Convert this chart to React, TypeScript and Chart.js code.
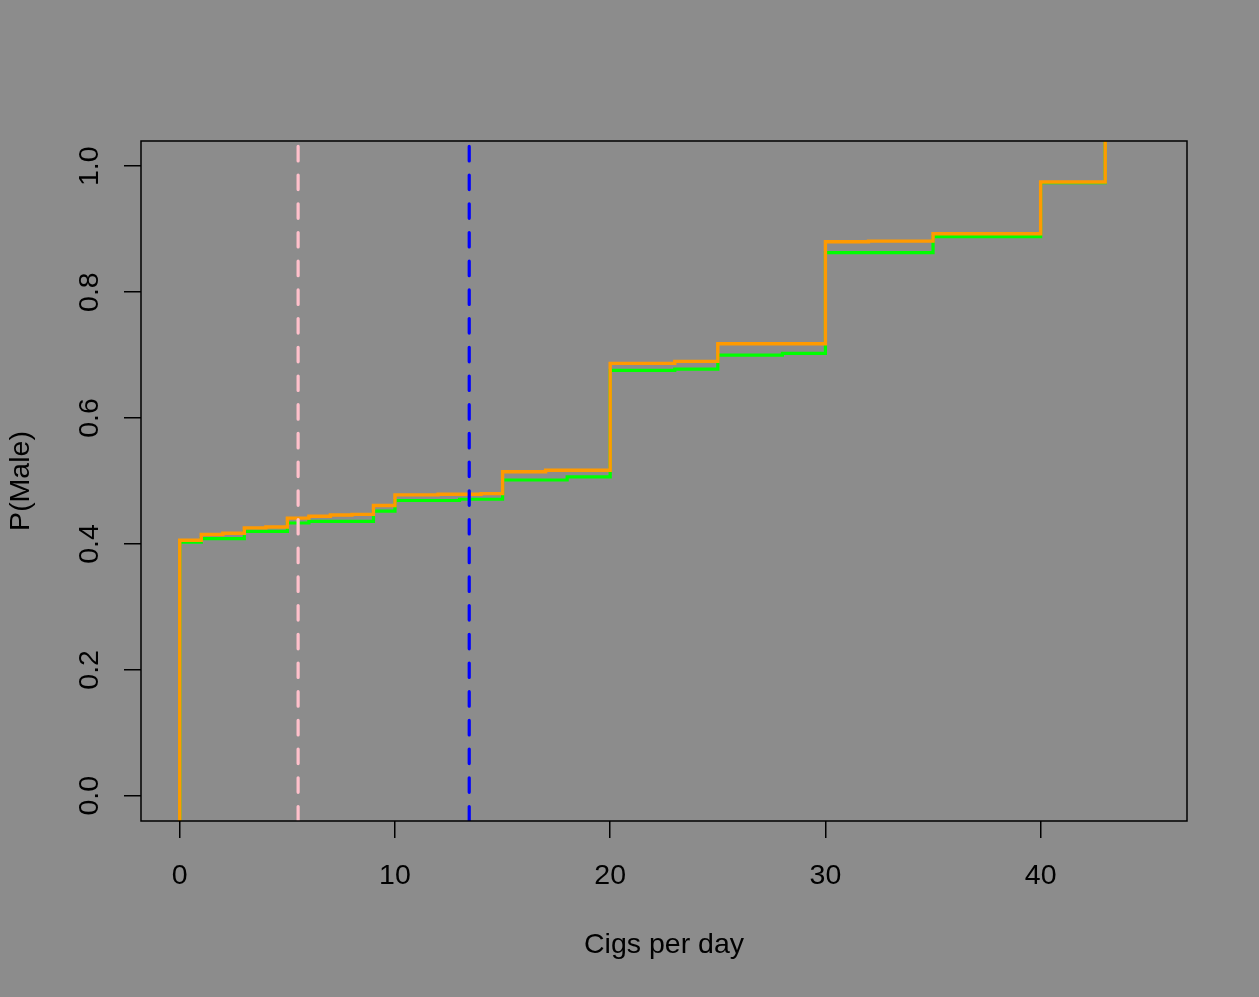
import React, { useEffect, useRef } from 'react';
import { Chart, registerables } from 'chart.js';

Chart.register(...registerables);

// Axis ranges and ticks
const xRange = [-1.8, 46.8];
const yRange = [-0.04, 1.04];
const xTicks = [0, 10, 20, 30, 40];
const yTicks = [0, 0.2, 0.4, 0.6, 0.8, 1.0];

// Step series (value holds from x until the next x)
const orangeX = [0, 0, 1, 2, 3, 4, 5, 6, 7, 8, 9, 10, 12, 14, 15, 17, 20, 23, 25, 30, 32, 35, 40, 43];
const orangeY = [-0.1, 0.406, 0.415, 0.417, 0.4255, 0.427, 0.441, 0.444, 0.446, 0.447, 0.461, 0.478, 0.479, 0.48, 0.5146, 0.517, 0.6868, 0.69, 0.718, 0.88, 0.881, 0.8928, 0.975, 1.1];

const greenX = [0, 0, 1, 3, 5, 6, 9, 10, 13, 15, 18, 20, 23, 25, 28, 30, 35, 40, 43];
const greenY = [-0.1, 0.4027, 0.4086, 0.42, 0.4333, 0.436, 0.452, 0.469, 0.471, 0.5016, 0.5066, 0.6757, 0.6777, 0.7, 0.7027, 0.8628, 0.888, 0.974, 1.1];

// Vertical reference lines
const pinkLineX = 5.5;
const blueLineX = 13.45;

const FONT = 'Liberation Sans, Arial, Helvetica, sans-serif';

export default function App() {
  const ref = useRef<HTMLCanvasElement | null>(null);

  useEffect(() => {
    document.body.style.margin = '0';
    const canvas = ref.current;
    if (!canvas) return;

    const toPts = (xs: number[], ys: number[]) => xs.map((x, i) => ({ x, y: ys[i] }));

    const boxPlugin = {
      id: 'box',
      beforeDraw(chart: any) {
        const { ctx } = chart;
        ctx.save();
        ctx.fillStyle = '#8C8C8C';
        ctx.fillRect(0, 0, chart.width, chart.height);
        ctx.restore();
      },
      afterDatasetsDraw(chart: any) {
        const { ctx, chartArea: a } = chart;
        ctx.save();
        ctx.strokeStyle = '#000';
        ctx.lineWidth = 1.5;
        ctx.strokeRect(a.left, a.top, a.right - a.left, a.bottom - a.top);
        ctx.restore();
      },
    };

    const chart = new Chart(canvas, {
      type: 'line',
      data: {
        datasets: [
          {
            data: [{ x: blueLineX, y: yRange[0] }, { x: blueLineX, y: yRange[1] }],
            borderColor: '#0000FF',
            borderWidth: 3.2,
            borderDash: [14.5, 14.2],
            borderCapStyle: 'round',
            pointRadius: 0,
            stepped: false,
          },
          {
            data: [{ x: pinkLineX, y: yRange[0] }, { x: pinkLineX, y: yRange[1] }],
            borderColor: '#FFC0CB',
            borderWidth: 3.2,
            borderDash: [14.5, 14.2],
            borderCapStyle: 'round',
            pointRadius: 0,
            stepped: false,
          },
          {
            data: toPts(orangeX, orangeY),
            borderColor: '#FF9A00',
            borderWidth: 3.4,
            pointRadius: 0,
            stepped: true,
          },
          {
            data: toPts(greenX, greenY),
            borderColor: '#00FF00',
            borderWidth: 3.2,
            pointRadius: 0,
            stepped: true,
          },
        ],
      },
      options: {
        animation: false,
        responsive: false,
        devicePixelRatio: 1,
        layout: { padding: { top: 141, right: 72, left: 0, bottom: 0 } },
        plugins: { legend: { display: false }, tooltip: { enabled: false } },
        scales: {
          x: {
            type: 'linear',
            min: xRange[0],
            max: xRange[1],
            afterBuildTicks: (s: any) => { s.ticks = xTicks.map((v) => ({ value: v })); },
            afterFit: (s: any) => { s.height = 997 - 821; },
            ticks: {
              color: '#000',
              font: { family: FONT, size: 28.5 },
              padding: 21,
              maxRotation: 0,
              callback: (v: any) => String(v),
            },
            grid: { display: true, drawOnChartArea: false, drawTicks: true, tickLength: 17, color: '#000', lineWidth: 1.5 },
            border: { display: false },
            title: { display: true, text: 'Cigs per day', color: '#000', font: { family: FONT, size: 28.5 }, padding: { top: 0, bottom: 35 } },
          },
          y: {
            type: 'linear',
            min: yRange[0],
            max: yRange[1],
            afterBuildTicks: (s: any) => { s.ticks = yTicks.map((v) => ({ value: v })); },
            afterFit: (s: any) => { s.width = 141; },
            ticks: {
              color: '#000',
              font: { family: FONT, size: 28.5 },
              padding: 14.5,
              minRotation: 90,
              maxRotation: 90,
              crossAlign: 'center',
              callback: (v: any) => Number(v).toFixed(1),
            },
            grid: { display: true, drawOnChartArea: false, drawTicks: true, tickLength: 17, color: '#000', lineWidth: 1.5 },
            border: { display: false },
            title: { display: true, text: 'P(Male)', color: '#000', font: { family: FONT, size: 28.5 }, padding: { top: 4, bottom: 0 } },
          },
        },
      } as any,
      plugins: [boxPlugin],
    });

    return () => chart.destroy();
  }, []);

  return (
    <div style={{ position: 'absolute', left: 0, top: 0, width: 1259, height: 997, background: '#8C8C8C' }}>
      <canvas ref={ref} width={1259} height={997} style={{ display: 'block' }} />
    </div>
  );
}
